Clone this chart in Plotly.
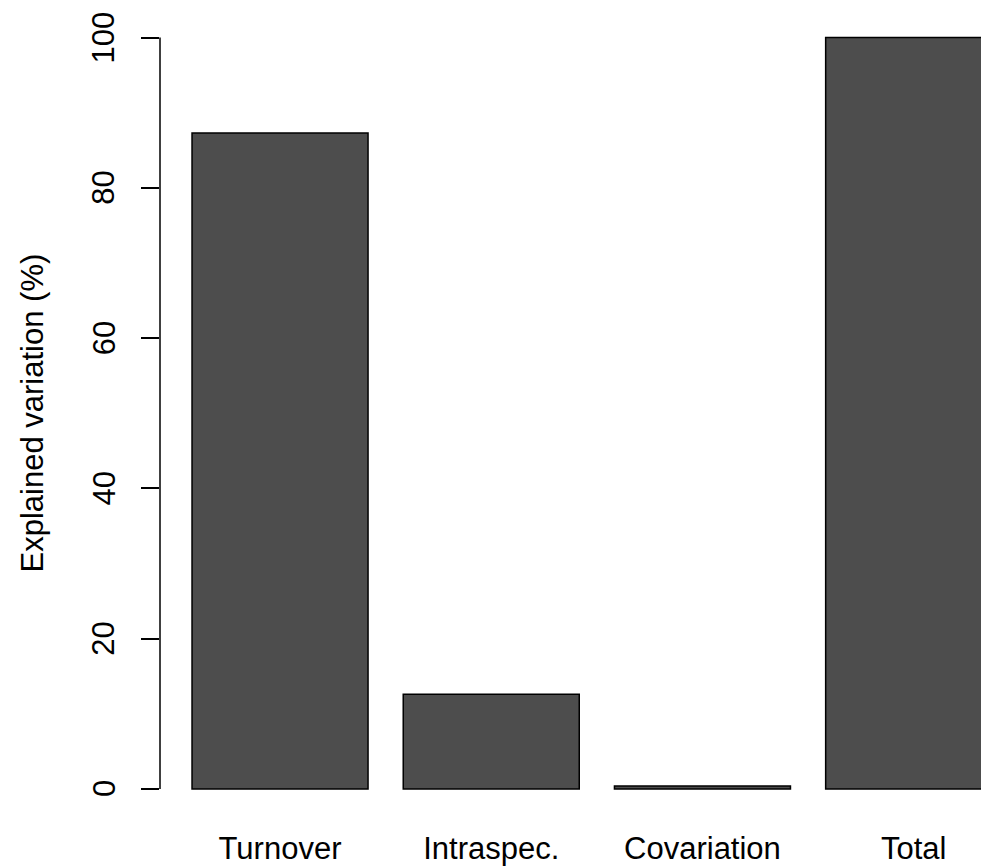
import plotly.graph_objects as go

categories = ["Turnover", "Intraspec.", "Covariation", "Total"]
values = [87.3, 12.6, 0.4, 100.0]
positions = [0.7, 1.9, 3.1, 4.3]
y_ticks = [0, 20, 40, 60, 80, 100]
y_title = "Explained variation (%)"

FONT = "Liberation Sans, Arial, Helvetica, sans-serif"

fig = go.Figure()
fig.add_trace(go.Bar(
    x=positions, y=values, width=1.0,
    marker=dict(color="#4D4D4D", line=dict(color="black", width=1.5)),
    hoverinfo="skip",
))

annotations = [dict(text=y_title, textangle=-90, xref="paper", yref="paper",
                    x=0, y=0.5, xshift=-128, xanchor="center", yanchor="middle",
                    showarrow=False, font=dict(size=31))]
for v in y_ticks:
    annotations.append(dict(text=str(v), textangle=-90, xref="paper", yref="y",
                            x=0, y=v, xshift=-56, xanchor="center", yanchor="middle",
                            showarrow=False, font=dict(size=31)))

# page body has an 8px margin, so the figure is sized to fill the rest of the window
fig.update_layout(
    width=981, height=860,
    margin=dict(l=152, r=0, t=0, b=49),
    plot_bgcolor="white", paper_bgcolor="white",
    showlegend=False,
    font=dict(family=FONT, size=31, color="black"),
    xaxis=dict(
        range=[0.018, 4.728], automargin=False,
        tickmode="array", tickvals=positions, ticktext=categories,
        showgrid=False, zeroline=False, showline=False, ticks="",
        tickfont=dict(size=31),
        ticklabelstandoff=8,
    ),
    yaxis=dict(
        range=[-3.99, 103.93], automargin=False,
        tickmode="array", tickvals=y_ticks,
        showticklabels=False,
        ticks="outside", ticklen=18, tickwidth=1.5, tickcolor="black",
        showgrid=False, zeroline=False, showline=False,
    ),
    shapes=[dict(type="line", xref="paper", yref="y", x0=0, x1=0,
                 y0=y_ticks[0], y1=y_ticks[-1],
                 line=dict(color="black", width=1.5))],
    annotations=annotations,
)

fig.write_html("out.html")
